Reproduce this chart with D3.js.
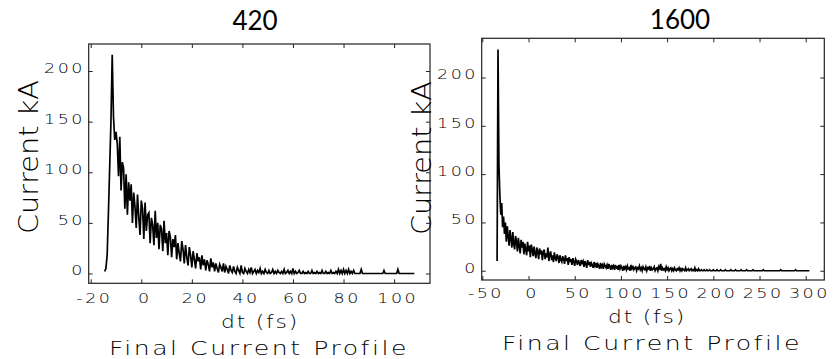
<!DOCTYPE html>
<html>
  <head>
    <meta charset="utf-8">
    <title>Final Current Profile</title>
    <script src="https://d3js.org/d3.v7.min.js" charset="utf-8"></script>
    <style type="text/css">
      body { margin: 0; background: #fff; }
      .hershey { font-family: "DejaVu Sans", sans-serif; font-weight: 200; fill: #000; }
      .big-title { font-family: Lato, "Open Sans", sans-serif; font-weight: 400; fill: #000; }
    </style>
  </head>
  <body>
    <script type="text/javascript">

      // ---- data ----
      // left run (420): samples every 0.5 fs starting at -14.5 fs
      var leftStart = -14.5, leftStep = 0.5;
      var leftCurrent = [
        2, 5, 18, 60, 105, 150, 216, 155, 132, 140,
        128, 96, 135, 82, 110, 104, 64, 98, 58, 90,
        72, 88, 50, 80, 66, 45, 78, 56, 38, 72,
        64, 34, 70, 42, 58, 60, 30, 55, 48, 28,
        62, 35, 50, 24, 48, 44, 22, 52, 30, 40,
        18, 42, 36, 16, 34, 26, 38, 14, 30, 20,
        12, 32, 24, 10, 28, 16, 8, 26, 18, 6,
        22, 14, 5, 20, 12, 16, 4, 18, 8, 14,
        3, 13, 9, 2, 15, 6, 11, 2, 10, 5,
        1, 9, 6, 2, 10, 1, 7, 4, 0, 8,
        3, 1, 7, 2, 0, 6, 3, 0, 8, 1,
        0, 5, 2, 0, 4, 1, 6, 0, 2, 4,
        0, 3, 1, 5, 0, 2, 0, 4, 1, 0,
        3, 0, 1, 4, 0, 2, 0, 3, 1, 0,
        2, 0, 4, 0, 1, 3, 0, 2, 0, 5,
        0, 2, 0, 1, 3, 0, 0, 2, 0, 1,
        0, 2, 0, 0, 3, 0, 1, 0, 2, 0,
        1, 0, 3, 0, 0, 2, 0, 1, 0, 3,
        0, 1, 0, 2, 0, 4, 0, 3, 0, 4,
        0, 3, 0, 4, 0, 2, 0, 3, 0, 0,
        0, 0, 0, 4, 0, 0, 0, 0, 0, 0,
        0, 0, 0, 0, 0, 0, 0, 0, 0, 0,
        0, 3, 0, 0, 0, 0, 0, 0, 0, 0,
        0, 0, 4, 0, 0, 0, 0, 0, 0, 0,
        0, 0, 0, 0, 0, 0
      ];

      // right run (1600): samples every 1 fs starting at -34 fs
      var rightStart = -34, rightStep = 1;
      var rightCurrent = [
        10, 229, 110, 78, 58, 70, 45, 56, 38, 50,
        30, 46, 36, 26, 42, 33, 24, 40, 28, 22,
        36, 30, 20, 34, 26, 18, 32, 24, 30, 17,
        28, 22, 16, 30, 20, 26, 14, 27, 22, 15,
        25, 18, 13, 24, 20, 12, 23, 17, 21, 11,
        19, 22, 12, 18, 14, 24, 10, 17, 20, 11,
        16, 9, 19, 13, 10, 17, 14, 8, 16, 11,
        9, 15, 12, 7, 16, 10, 13, 6, 14, 9,
        12, 6, 13, 9, 5, 12, 10, 6, 11, 8,
        5, 11, 8, 10, 4, 10, 7, 3, 11, 6,
        9, 4, 8, 6, 3, 9, 5, 8, 3, 7,
        5, 2, 8, 4, 6, 2, 7, 5, 3, 6,
        2, 7, 4, 1, 6, 3, 5, 1, 6, 3,
        4, 1, 6, 2, 5, 3, 0, 5, 2, 4,
        1, 5, 2, 3, 0, 6, 2, 4, 1, 3,
        4, 0, 3, 2, 5, 1, 3, 0, 4, 2,
        1, 4, 0, 3, 2, 5, 0, 3, 1, 2,
        4, 0, 2, 3, 0, 4, 1, 7, 0, 3,
        1, 2, 0, 4, 1, 3, 0, 2, 3, 0,
        2, 0, 3, 1, 0, 2, 1, 3, 0, 2,
        0, 2, 1, 0, 3, 0, 1, 2, 0, 1,
        2, 0, 1, 0, 3, 0, 1, 0, 2, 0,
        0, 1, 0, 0, 1, 0, 0, 1, 0, 0,
        1, 0, 0, 0, 1, 0, 0, 0, 1, 0,
        0, 0, 1, 0, 0, 0, 0, 1, 0, 0,
        0, 0, 0, 1, 0, 0, 0, 0, 1, 0,
        0, 0, 0, 0, 1, 0, 0, 0, 0, 0,
        1, 0, 0, 0, 0, 0, 0, 1, 0, 0,
        0, 0, 0, 0, 0, 0, 0, 0, 1, 0,
        0, 0, 0, 0, 0, 0, 0, 0, 0, 0,
        0, 0, 0, 0, 0, 0, 0, 1, 0, 0,
        0, 0, 0, 0, 0, 0, 0, 0, 0, 0,
        0, 0, 0, 1, 0, 0, 0, 0, 0, 0,
        0, 0, 0, 0, 0, 0, 0, 0, 0
      ];

      var leftXTicks = [-20, 0, 20, 40, 60, 80, 100];
      var rightXTicks = [-50, 0, 50, 100, 150, 200, 250, 300];
      var yTicks = [0, 50, 100, 150, 200];
      var panelTitles = ["420", "1600"];
      var xTitle = "dt (fs)";
      var yTitle = "Current kA";
      var plotTitle = "Final Current Profile";

      // ---- page ----
      var width = 835;
      var height = 359;
      var svg = d3.select("body")
          .append("svg")
          .attr("width", width)
          .attr("height", height);

      var stretch = "scale(1.25,1)";  // the plot font is wider than DejaVu

      function drawPanel(p) {
        var x = d3.scaleLinear().domain(p.xDomain).range([p.left, p.right]);
        var y = d3.scaleLinear().domain(p.yDomain).range([p.bottom, p.top]);
        var g = svg.append("g");

        // the trace
        var line = d3.line()
            .x(function(d, i) { return x(p.start + i * p.step); })
            .y(function(d) { return y(d); });
        g.append("path")
            .datum(p.values)
            .attr("d", line)
            .attr("fill", "none")
            .attr("stroke", "#000")
            .attr("stroke-width", 1.7);

        // frame
        g.append("rect")
            .attr("x", p.left).attr("y", p.top)
            .attr("width", p.right - p.left).attr("height", p.bottom - p.top)
            .attr("fill", "none").attr("stroke", "#222").attr("stroke-width", 1.2);

        // inward ticks on all sides
        var fmt = function(d) { return String(d); };
        var bottomAx = g.append("g")
            .attr("transform", "translate(0," + p.bottom + ")")
            .call(d3.axisBottom(x).tickValues(p.xTicks).tickSize(-4).tickPadding(p.xPad).tickFormat(fmt));
        var leftAx = g.append("g")
            .attr("transform", "translate(" + p.left + ",0)")
            .call(d3.axisLeft(y).tickValues(yTicks).tickSize(-4).tickPadding(3).tickFormat(fmt));
        g.append("g")
            .attr("transform", "translate(0," + p.top + ")")
            .call(d3.axisTop(x).tickValues(p.xTicks).tickSize(-4).tickFormat(""));
        g.append("g")
            .attr("transform", "translate(" + p.right + ",0)")
            .call(d3.axisRight(y).tickValues(yTicks).tickSize(-4).tickFormat(""));

        g.selectAll(".domain").remove();
        g.selectAll(".tick line").attr("stroke", "#222");

        bottomAx.selectAll("text")
            .attr("class", "hershey")
            .attr("transform", stretch)
            .style("font-size", "14px")
            .style("letter-spacing", "2px")
            .attr("dx", "2.5");
        leftAx.selectAll("text")
            .attr("class", "hershey")
            .attr("transform", stretch)
            .style("font-size", "14px")
            .style("letter-spacing", "2px")
            .attr("dy", "0.1em");

        // axis titles
        svg.append("text")
            .attr("class", "hershey")
            .attr("transform", "translate(" + p.yTitleX + "," + p.yTitleY + ") rotate(-90)")
            .attr("text-anchor", "middle")
            .attr("dy", "0.36em")
            .attr("textLength", 154)
            .attr("lengthAdjust", "spacingAndGlyphs")
            .style("font-size", "27px")
            .text(yTitle);

        svg.append("text")
            .attr("class", "hershey")
            .attr("x", p.xTitleX).attr("y", p.xTitleY)
            .attr("text-anchor", "middle")
            .attr("dy", "0.36em")
            .attr("textLength", 78)
            .attr("lengthAdjust", "spacingAndGlyphs")
            .style("font-size", "18px")
            .style("letter-spacing", "1.5px")
            .text(xTitle);

        svg.append("text")
            .attr("class", "hershey")
            .attr("x", p.plotTitleX).attr("y", p.plotTitleY)
            .attr("text-anchor", "middle")
            .attr("dy", "0.36em")
            .attr("textLength", 300)
            .attr("lengthAdjust", "spacingAndGlyphs")
            .style("font-size", "20px")
            .style("letter-spacing", "2px")
            .text(plotTitle);

        svg.append("text")
            .attr("class", "big-title")
            .attr("x", p.titleX).attr("y", p.titleY)
            .attr("text-anchor", "middle")
            .style("font-size", "26px")
            .text(p.title);
      }

      drawPanel({
        values: leftCurrent, start: leftStart, step: leftStep,
        xDomain: [-20.8, 114.2], yDomain: [-9.7, 226.7],
        left: 88.7, right: 430, top: 44, bottom: 283.3,
        xTicks: leftXTicks, xPad: 10,
        yTitleX: 28, yTitleY: 157,
        xTitleX: 260, xTitleY: 322,
        plotTitleX: 259, plotTitleY: 348,
        title: panelTitles[0], titleX: 255, titleY: 30
      });

      drawPanel({
        values: rightCurrent, start: rightStart, step: rightStep,
        xDomain: [-50.65, 320.1], yDomain: [-9.6, 240.6],
        left: 481.7, right: 824.3, top: 38.3, bottom: 280,
        xTicks: rightXTicks, xPad: 8,
        yTitleX: 421, yTitleY: 158,
        xTitleX: 647, xTitleY: 317,
        plotTitleX: 652, plotTitleY: 343,
        title: panelTitles[1], titleX: 680, titleY: 29
      });

    </script>
  </body>
</html>
